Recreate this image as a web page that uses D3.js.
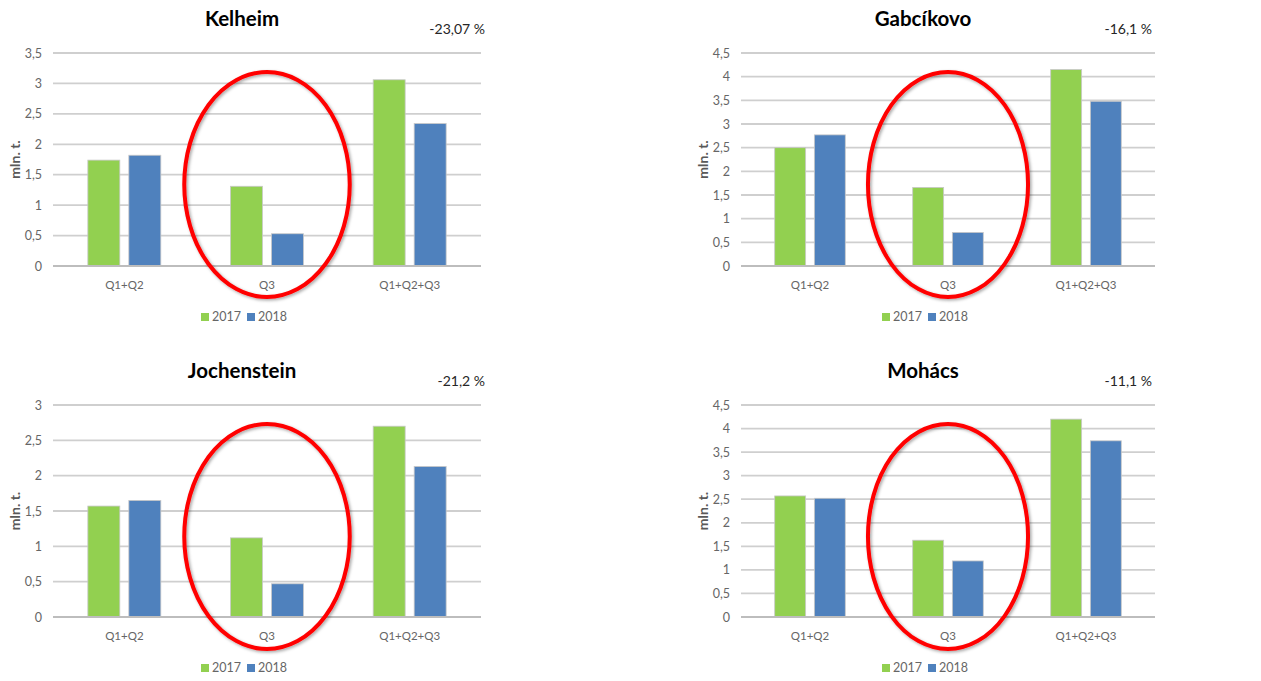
<!DOCTYPE html>
<html>
<head>
<meta charset="utf-8">
<script src="https://cdn.jsdelivr.net/npm/d3@7"></script>
<style>
  html, body { margin: 0; padding: 0; background: #ffffff; }
  svg { display: block; font-family: Lato, "Open Sans", sans-serif; }
</style>
</head>
<body>
<svg id="chart" width="1261" height="681"></svg>
<script>
// Quarterly cargo throughput on the Danube, 2017 vs 2018 (million tonnes)
const categories = ["Q1+Q2", "Q3", "Q1+Q2+Q3"];
const years = ["2017", "2018"];
const yearColors = ["#92d050", "#4f81bd"];

const stations = ["Kelheim", "Gabcíkovo", "Jochenstein", "Mohács"];
const changes = ["-23,07 %", "-16,1 %", "-21,2 %", "-11,1 %"];

const kelheim2017 = [1.74, 1.31, 3.06];
const kelheim2018 = [1.82, 0.53, 2.34];
const gabcikovo2017 = [2.50, 1.66, 4.15];
const gabcikovo2018 = [2.77, 0.71, 3.48];
const jochenstein2017 = [1.57, 1.12, 2.70];
const jochenstein2018 = [1.65, 0.47, 2.13];
const mohacs2017 = [2.57, 1.63, 4.20];
const mohacs2018 = [2.52, 1.19, 3.74];

const ticksHalf35 = [0, 0.5, 1, 1.5, 2, 2.5, 3, 3.5];
const ticksHalf45 = [0, 0.5, 1, 1.5, 2, 2.5, 3, 3.5, 4, 4.5];
const ticksHalf30 = [0, 0.5, 1, 1.5, 2, 2.5, 3];

const panels = [
  { name: stations[0], change: changes[0], v17: kelheim2017, v18: kelheim2018, ticks: ticksHalf35,
    x0: 53, x1: 481, y0: 53, y1: 266 },
  { name: stations[1], change: changes[1], v17: gabcikovo2017, v18: gabcikovo2018, ticks: ticksHalf45,
    x0: 741, x1: 1155, y0: 53, y1: 266 },
  { name: stations[2], change: changes[2], v17: jochenstein2017, v18: jochenstein2018, ticks: ticksHalf30,
    x0: 53, x1: 481, y0: 405, y1: 617 },
  { name: stations[3], change: changes[3], v17: mohacs2017, v18: mohacs2018, ticks: ticksHalf45,
    x0: 741, x1: 1155, y0: 405, y1: 617 }
];

const svg = d3.select("#chart");
const fmt = v => d3.format("")(v).replace(".", ",");

// soft shadow under the highlight ellipse
const defs = svg.append("defs");
const f = defs.append("filter").attr("id", "ringShadow")
  .attr("x", "-20%").attr("y", "-20%").attr("width", "140%").attr("height", "140%");
f.append("feDropShadow").attr("dx", 1.5).attr("dy", 1.5).attr("stdDeviation", 1.6)
  .attr("flood-color", "#000").attr("flood-opacity", 0.35);

panels.forEach(p => {
  const g = svg.append("g");
  const x = d3.scaleBand().domain(categories).range([p.x0, p.x1]);
  const inner = d3.scaleBand().domain(years).range([0, x.bandwidth()])
    .paddingInner(0.22).paddingOuter(0.85);
  const yMax = p.ticks[p.ticks.length - 1];
  const y = d3.scaleLinear().domain([0, yMax]).range([p.y1, p.y0]);

  // gridlines
  g.append("g").selectAll("line").data(p.ticks.filter(t => t > 0)).join("line")
    .attr("x1", p.x0).attr("x2", p.x1)
    .attr("y1", d => y(d)).attr("y2", d => y(d))
    .attr("stroke", "#cfcfcf").attr("stroke-width", 1.8);

  // y axis tick labels
  const yAxis = d3.axisLeft(y).tickValues(p.ticks).tickFormat(fmt).tickSize(0).tickPadding(11);
  const ya = g.append("g").attr("transform", `translate(${p.x0},0)`).call(yAxis);
  ya.select(".domain").remove();
  ya.selectAll("text").attr("font-size", 12.5).attr("fill", "#666666")
    .attr("font-family", "Lato, 'Open Sans', sans-serif");

  // y axis title
  g.append("text")
    .attr("transform", `translate(${p.x0 - 38},${(p.y0 + p.y1) / 2}) rotate(-90)`)
    .attr("text-anchor", "middle").attr("dy", "0.35em")
    .attr("font-size", 14).attr("font-weight", "bold").attr("fill", "#595959")
    .text("mln. t.");

  // bars
  const rows = categories.map((c, i) => ({ c, vals: [p.v17[i], p.v18[i]] }));
  const grp = g.append("g").selectAll("g").data(rows).join("g")
    .attr("transform", d => `translate(${x(d.c)},0)`);
  grp.selectAll("rect").data(d => d.vals.map((v, j) => ({ v, year: years[j], j }))).join("rect")
    .attr("x", d => inner(d.year))
    .attr("width", inner.bandwidth())
    .attr("y", d => y(d.v))
    .attr("height", d => y(0) - y(d.v))
    .attr("fill", d => yearColors[d.j])
    .attr("stroke", "#c8c8c8").attr("stroke-width", 0.8);

  // baseline
  g.append("line").attr("x1", p.x0).attr("x2", p.x1)
    .attr("y1", y(0)).attr("y2", y(0))
    .attr("stroke", "#bdbdbd").attr("stroke-width", 2);

  // category labels
  const xAxis = d3.axisBottom(x).tickSize(0).tickPadding(15);
  const xa = g.append("g").attr("transform", `translate(0,${y(0)})`).call(xAxis);
  xa.select(".domain").remove();
  xa.selectAll("text").attr("font-size", 11.5).attr("fill", "#666666")
    .attr("font-family", "Lato, 'Open Sans', sans-serif");

  // title and change
  const mid = (p.x0 + p.x1) / 2;
  g.append("text").attr("x", mid - 25).attr("y", p.y0 - 27)
    .attr("text-anchor", "middle").attr("font-size", 20.5).attr("font-weight", "bold")
    .attr("fill", "#000").text(p.name);
  g.append("text").attr("x", p.x1 + (p.x0 < 400 ? 4 : -3)).attr("y", p.y0 - 19)
    .attr("text-anchor", "end").attr("font-size", 14).attr("fill", "#262626")
    .text(p.change);

  // legend
  const legY = p.y1 + 51;
  const legX = mid - 25;
  const leg = g.append("g").attr("transform", `translate(${legX - 41},${legY})`);
  years.forEach((yr, j) => {
    const item = leg.append("g").attr("transform", `translate(${j * 46},0)`);
    item.append("rect").attr("x", 0).attr("y", -4).attr("width", 8).attr("height", 8)
      .attr("fill", yearColors[j]);
    item.append("text").attr("x", 11).attr("y", 0).attr("dy", "0.35em")
      .attr("font-size", 12.5).attr("fill", "#666666").text(yr);
  });

  // highlight ring around Q3
  const cx = x("Q3") + x.bandwidth() / 2;
  g.append("ellipse")
    .attr("cx", cx).attr("cy", p.y0 + 131.5)
    .attr("rx", x.bandwidth() * 0.58).attr("ry", 112.5)
    .attr("fill", "none").attr("stroke", "#ff0000").attr("stroke-width", 4)
    .attr("filter", "url(#ringShadow)");
});
</script>
</body>
</html>
